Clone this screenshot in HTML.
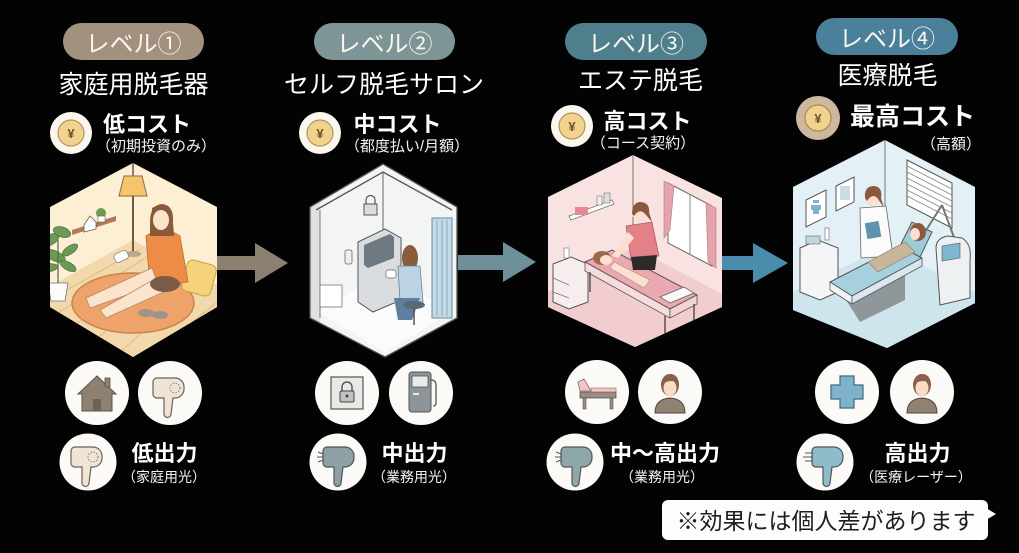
<!DOCTYPE html>
<html><head><meta charset="utf-8"><style>
html,body{margin:0;padding:0;background:#030303;}
svg{display:block}
text{font-family:"Liberation Sans","Noto Sans CJK JP",sans-serif;}
</style></head><body>
<svg width="1019" height="553" viewBox="0 0 1019 553" xmlns="http://www.w3.org/2000/svg">
<rect width="1019" height="553" fill="#030303"/>
<defs>
<clipPath id="h1"><polygon points="133,163 217,207 217,307 133,357 50,307 50,207"/></clipPath>
<clipPath id="h2"><polygon points="383,164 457,207 457,318 385,357 310,318 310,207"/></clipPath>
<clipPath id="h3"><polygon points="633,155 722,198 722,307 635,347 548,307 548,197"/></clipPath>
<clipPath id="h4"><polygon points="885,140 975,187 975,303 887,348 793,310 793,187"/></clipPath>
</defs>

<!-- ===== Headers ===== -->
<rect x="63" y="23" width="141" height="37" rx="18.5" fill="#a1917e"/>
<text x="133.5" y="52" font-size="24" fill="#faf6f0" text-anchor="middle">レベル①</text>
<rect x="314" y="23" width="141" height="37" rx="18.5" fill="#7e9598"/>
<text x="384.5" y="52" font-size="24" fill="#faf6f0" text-anchor="middle">レベル②</text>
<rect x="565" y="23" width="142" height="37" rx="18.5" fill="#4f7f8c"/>
<text x="636" y="52" font-size="24" fill="#faf6f0" text-anchor="middle">レベル③</text>
<rect x="816" y="18" width="142" height="37" rx="18.5" fill="#4a8099"/>
<text x="887" y="47" font-size="24" fill="#faf6f0" text-anchor="middle">レベル④</text>

<text x="133.5" y="93" font-size="25" fill="#ffffff" text-anchor="middle">家庭用脱毛器</text>
<text x="384" y="93" font-size="25" fill="#ffffff" text-anchor="middle">セルフ脱毛サロン</text>
<text x="640.5" y="89" font-size="25" fill="#ffffff" text-anchor="middle">エステ脱毛</text>
<text x="887.5" y="84" font-size="25" fill="#ffffff" text-anchor="middle">医療脱毛</text>

<!-- yen coins -->
<g>
<circle cx="71" cy="133" r="21" fill="#fbf7ee"/><circle cx="71" cy="133" r="13" fill="#f2d38e" stroke="#b3955c" stroke-width="1.2"/>
<text x="71" y="138" font-size="13" fill="#6b5330" text-anchor="middle" font-weight="bold">¥</text>
<circle cx="320" cy="133" r="21" fill="#fbf7ee"/><circle cx="320" cy="133" r="13" fill="#f2d38e" stroke="#b3955c" stroke-width="1.2"/>
<text x="320" y="138" font-size="13" fill="#6b5330" text-anchor="middle" font-weight="bold">¥</text>
<circle cx="572" cy="126" r="21" fill="#fbf7ee"/><circle cx="572" cy="126" r="13" fill="#f2d38e" stroke="#b3955c" stroke-width="1.2"/>
<text x="572" y="131" font-size="13" fill="#6b5330" text-anchor="middle" font-weight="bold">¥</text>
<circle cx="818" cy="118" r="22" fill="#cdb89e"/><circle cx="818" cy="118" r="13" fill="#f2d38e" stroke="#a88a55" stroke-width="1.2"/>
<text x="818" y="123" font-size="13" fill="#6b5330" text-anchor="middle" font-weight="bold">¥</text>
</g>

<text x="147" y="132" font-size="22" font-weight="bold" fill="#ffffff" text-anchor="middle">低コスト</text>
<text x="156" y="151" font-size="15" fill="#f4f4f4" text-anchor="middle">（初期投資のみ）</text>
<text x="397.5" y="132" font-size="22" font-weight="bold" fill="#ffffff" text-anchor="middle">中コスト</text>
<text x="407" y="151" font-size="15" fill="#f4f4f4" text-anchor="middle">（都度払い/月額）</text>
<text x="647.5" y="129" font-size="22" font-weight="bold" fill="#ffffff" text-anchor="middle">高コスト</text>
<text x="643" y="148" font-size="15" fill="#f4f4f4" text-anchor="middle">（コース契約）</text>
<text x="912.5" y="125" font-size="25" font-weight="bold" fill="#ffffff" text-anchor="middle">最高コスト</text>
<text x="951" y="149" font-size="15" fill="#f4f4f4" text-anchor="middle">（高額）</text>

<!-- ===== Arrows ===== -->
<rect x="217" y="256" width="40" height="14" fill="#8c8070"/>
<polygon points="255,243 288,263 255,283" fill="#8c8070"/>
<rect x="458" y="255" width="47" height="15" fill="#6f8f98"/>
<polygon points="503,242 536,262 503,282" fill="#6f8f98"/>
<rect x="720" y="256" width="35" height="14" fill="#4a8cab"/>
<polygon points="753,243 788,263 753,283" fill="#4a8cab"/>

<!-- ===== Hex 1 : home ===== -->
<g clip-path="url(#h1)">
<rect x="40" y="150" width="190" height="220" fill="#fcefd3"/>
<polygon points="40,292 133,240 230,292 230,370 40,370" fill="#f3d8ab"/>
<g stroke="#deba86" stroke-width="1">
<line x1="40" y1="305" x2="140" y2="249"/><line x1="50" y1="318" x2="150" y2="255"/><line x1="70" y1="328" x2="165" y2="263"/>
<line x1="95" y1="340" x2="180" y2="272"/><line x1="120" y1="352" x2="200" y2="282"/><line x1="150" y1="355" x2="220" y2="300"/>
</g>
<ellipse cx="133" cy="303" rx="61" ry="30" fill="#eea36b" stroke="#c9844f" stroke-width="1.5"/>
<line x1="133" y1="160" x2="133" y2="176" stroke="#6b5a48" stroke-width="1.5"/>
<polygon points="124,176 142,176 147,196 119,196" fill="#f6c46a" stroke="#8a6a40" stroke-width="1"/>
<line x1="133" y1="196" x2="133" y2="252" stroke="#6b5a48" stroke-width="2"/>
<ellipse cx="133" cy="254" rx="8" ry="3" fill="#b9a78c"/>
<polygon points="72,230 116,216 116,221 72,235" fill="#b07a55"/>
<polygon points="84,225 90,216 96,222 96,229 84,232" fill="#fff" stroke="#6b5a48" stroke-width="0.8"/>
<circle cx="101" cy="213" r="5" fill="#6f9a52"/><rect x="98" y="216" width="7" height="6" fill="#fff" stroke="#6b5a48" stroke-width="0.6"/>
<g fill="#6a9a55" stroke="#3f6a35" stroke-width="0.6">
<ellipse cx="50" cy="240" rx="10" ry="5" transform="rotate(-30 50 240)"/>
<ellipse cx="62" cy="232" rx="9" ry="5" transform="rotate(20 62 232)"/>
<ellipse cx="55" cy="256" rx="11" ry="5" transform="rotate(25 55 256)"/>
<ellipse cx="70" cy="250" rx="9" ry="4" transform="rotate(-35 70 250)"/>
<ellipse cx="48" cy="268" rx="10" ry="4" transform="rotate(-10 48 268)"/>
<ellipse cx="68" cy="266" rx="9" ry="4" transform="rotate(30 68 266)"/>
</g>
<line x1="58" y1="240" x2="58" y2="285" stroke="#4f6a3a" stroke-width="1.2"/>
<path d="M48,283 h20 l-3,18 h-14 z" fill="#fbfbf8" stroke="#777" stroke-width="0.8"/>
<rect x="184" y="262" width="30" height="32" rx="6" fill="#f6d27a" stroke="#c9a24a" stroke-width="1" transform="rotate(15 199 278)"/>
<path d="M146,236 Q163,224 180,236 L188,282 L150,286 Z" fill="#ec8c47" stroke="#b96a34" stroke-width="0.8"/>
<path d="M150,222 Q150,205 162,204 Q174,205 173,222 L174,236 L150,236 Z" fill="#8a5a3a"/>
<ellipse cx="161" cy="220" rx="8" ry="10" fill="#fbe3cc"/>
<path d="M152,214 Q158,206 170,212 L170,208 Q162,202 152,208 Z" fill="#8a5a3a"/>
<path d="M152,268 L86,298 L90,308 L158,284 Z" fill="#fbe3cc" stroke="#b08a6a" stroke-width="0.8"/>
<path d="M160,276 L100,310 L106,318 L168,290 Z" fill="#fbe3cc" stroke="#b08a6a" stroke-width="0.8"/>
<ellipse cx="165" cy="284" rx="15" ry="8" fill="#7b5b45"/>
<rect x="114" y="252" width="14" height="9" rx="3" fill="#fff" stroke="#888" stroke-width="0.8" transform="rotate(-25 121 256)"/>
<ellipse cx="146" cy="313" rx="8" ry="4" fill="#9e958a"/><ellipse cx="160" cy="315" rx="8" ry="4" fill="#9e958a"/>
</g>

<!-- ===== Hex 2 : booth ===== -->
<g clip-path="url(#h2)">
<rect x="300" y="150" width="170" height="220" fill="#f3f4f4"/>
<polygon points="318,312 383,272 452,312 385,352" fill="#fbfbfb"/>
<rect x="310" y="200" width="10" height="125" fill="#dfe2e3"/>
<polyline points="316,210 383,172 452,210" fill="none" stroke="#555" stroke-width="1.3"/>
<polyline points="310,207 383,164 457,207" fill="none" stroke="#555" stroke-width="1.3"/>
<line x1="383" y1="172" x2="383" y2="262" stroke="#666" stroke-width="1"/>
<line x1="320" y1="210" x2="320" y2="318" stroke="#777" stroke-width="1"/>
<rect x="364" y="204" width="13" height="11" fill="#dcdcdc" stroke="#555" stroke-width="1"/>
<path d="M366,204 v-4 a4,4 0 0 1 9,0 v4" fill="none" stroke="#555" stroke-width="1.2"/>
<polygon points="358,242 385,229 401,238 401,300 373,312 358,302" fill="#dadddf" stroke="#555" stroke-width="1"/>
<polygon points="364,245 390,234 394,237 394,258 368,268 364,265" fill="#6f7a80"/>
<rect x="320" y="285" width="22" height="22" fill="#fff" stroke="#777" stroke-width="0.8"/>
<rect x="345" y="250" width="7" height="14" rx="2" fill="#eee" stroke="#666" stroke-width="0.8"/>
<ellipse cx="410" cy="258" rx="8" ry="13" fill="#8a5c3e"/>
<polygon points="398,266 420,266 423,302 400,302" fill="#bcd3e6" stroke="#6a8499" stroke-width="0.8"/>
<polygon points="394,298 420,298 412,320 398,320" fill="#5f7fa0"/>
<rect x="386" y="270" width="10" height="8" rx="2" fill="#fff" stroke="#666" stroke-width="0.7"/>
<ellipse cx="414" cy="305" rx="11" ry="4" fill="#596a76"/>
<line x1="414" y1="308" x2="414" y2="325" stroke="#555" stroke-width="1.5"/>
<rect x="432" y="218" width="20" height="100" fill="#c3dbe8" stroke="#6f8a99" stroke-width="1"/>
<g stroke="#7f9cab" stroke-width="0.8"><line x1="437" y1="220" x2="437" y2="316"/><line x1="442" y1="220" x2="442" y2="316"/><line x1="447" y1="220" x2="447" y2="316"/></g>
</g>
<polygon points="383,164 457,207 457,318 385,357 310,318 310,207" fill="none" stroke="#555" stroke-width="1.3"/>

<!-- ===== Hex 3 : esthetic ===== -->
<g clip-path="url(#h3)">
<rect x="540" y="145" width="190" height="210" fill="#f8e2e2"/>
<polygon points="548,292 633,247 722,294 722,360 548,360" fill="#f1cdcf"/>
<line x1="633" y1="155" x2="633" y2="247" stroke="#777" stroke-width="1"/>
<polygon points="668,183 712,206 712,266 668,243" fill="#fff" stroke="#666" stroke-width="1"/>
<line x1="690" y1="194" x2="690" y2="254" stroke="#888" stroke-width="1"/>
<polygon points="664,181 674,186 670,230 664,238" fill="#e6a3ad" stroke="#b07a80" stroke-width="0.6"/>
<polygon points="706,203 716,208 716,268 708,262" fill="#e6a3ad" stroke="#b07a80" stroke-width="0.6"/>
<polygon points="569,216 612,200 614,204 571,220" fill="#fff" stroke="#777" stroke-width="0.8"/>
<rect x="575" y="207" width="13" height="8" fill="#e48a92"/>
<rect x="597" y="196" width="5" height="9" fill="#eee" stroke="#777" stroke-width="0.6"/>
<rect x="604" y="193" width="6" height="10" fill="#ddd" stroke="#777" stroke-width="0.6"/>
<polygon points="553,264 571,257 588,264 588,302 569,309 553,302" fill="#f6eeee" stroke="#555" stroke-width="1"/>
<line x1="553" y1="278" x2="569" y2="285" stroke="#777" stroke-width="0.8"/><line x1="553" y1="292" x2="569" y2="298" stroke="#777" stroke-width="0.8"/>
<rect x="564" y="248" width="5" height="10" fill="#fff" stroke="#777" stroke-width="0.6"/>
<polygon points="585,262 612,250 697,295 670,309" fill="#eaa8b0" stroke="#555" stroke-width="1"/>
<polygon points="585,262 670,309 670,318 585,271" fill="#f6dcdc" stroke="#555" stroke-width="0.8"/>
<polygon points="670,309 697,295 697,304 670,318" fill="#f3d4d4" stroke="#555" stroke-width="0.8"/>
<g stroke="#555" stroke-width="1.5"><line x1="590" y1="272" x2="590" y2="292"/><line x1="665" y1="316" x2="665" y2="334"/><line x1="694" y1="304" x2="694" y2="322"/></g>
<polygon points="660,297 684,287 694,293 670,303" fill="#fafafa" stroke="#666" stroke-width="0.8"/>
<ellipse cx="602" cy="258" rx="9" ry="7" fill="#9a6a4a"/>
<ellipse cx="606" cy="260" rx="6" ry="5" fill="#fbe0cf"/>
<path d="M614,262 L650,280 L644,288 L610,268 Z" fill="#fbe0cf" stroke="#b08a7a" stroke-width="0.6"/>
<circle cx="640" cy="213" r="8" fill="#fbe0cf"/>
<path d="M632,214 Q632,202 641,202 Q650,203 649,212 L652,222 L646,215 Q640,207 634,216 Z" fill="#8a5a3e"/>
<polygon points="626,226 652,222 659,256 631,259" fill="#e48088" stroke="#a85a62" stroke-width="0.7"/>
<polygon points="631,257 657,255 655,270 633,270" fill="#2e2a2a"/>
<path d="M628,232 L612,256 L618,258 L634,238 Z" fill="#fbe0cf"/>
</g>

<!-- ===== Hex 4 : clinic ===== -->
<g clip-path="url(#h4)">
<rect x="785" y="130" width="200" height="230" fill="#e3f1f6"/>
<polygon points="793,292 885,247 975,292 975,360 793,360" fill="#cfe5ee"/>
<line x1="885" y1="140" x2="885" y2="247" stroke="#777" stroke-width="1"/>
<polygon points="907,160 952,183 952,228 907,205" fill="#fff" stroke="#555" stroke-width="1"/>
<g stroke="#888" stroke-width="0.8">
<line x1="907" y1="166" x2="952" y2="189"/><line x1="907" y1="172" x2="952" y2="195"/><line x1="907" y1="178" x2="952" y2="201"/>
<line x1="907" y1="184" x2="952" y2="207"/><line x1="907" y1="190" x2="952" y2="213"/><line x1="907" y1="196" x2="952" y2="219"/>
</g>
<polygon points="806,200 826,190 826,217 806,227" fill="#fff" stroke="#555" stroke-width="1"/>
<path d="M813,203 h6 v-3 h-6 z M811,205 h10 v5 h-10 z M813,210 h6 v4 h-6 z" fill="#7fb3cc"/>
<polygon points="836,186 854,177 854,202 836,211" fill="#fff" stroke="#555" stroke-width="1"/>
<rect x="840" y="186" width="10" height="14" fill="#c9dde5"/>
<polygon points="800,248 818,240 838,248 838,292 820,300 800,292" fill="#f3f5f6" stroke="#555" stroke-width="1"/>
<rect x="806" y="236" width="14" height="8" fill="#bfd8e2" stroke="#666" stroke-width="0.6"/>
<rect x="825" y="228" width="4" height="12" fill="#fff" stroke="#666" stroke-width="0.6"/>
<circle cx="873" cy="198" r="8" fill="#fbe0cf"/>
<path d="M865,198 Q864,186 874,186 Q883,187 881,198 L884,208 L878,199 Q873,192 867,201 Z" fill="#8a5a3e"/>
<polygon points="860,208 886,206 893,256 861,258" fill="#fbfbfb" stroke="#666" stroke-width="0.8"/>
<rect x="866" y="222" width="14" height="16" fill="#5e93b0" transform="rotate(-10 873 230)"/>
<polygon points="846,300 905,270 905,300 860,322" fill="#8f979b"/>
<polygon points="830,282 900,246 922,258 852,296" fill="#a6d0dd" stroke="#555" stroke-width="1"/>
<polygon points="830,282 852,296 852,304 830,290" fill="#eef5f7" stroke="#555" stroke-width="0.8"/>
<polygon points="852,296 922,258 922,266 852,304" fill="#d9e8ee" stroke="#555" stroke-width="0.8"/>
<polygon points="900,246 912,222 932,232 920,257" fill="#9ccbd9" stroke="#555" stroke-width="1"/>
<ellipse cx="918" cy="232" rx="8" ry="9" fill="#8a5a3e"/>
<ellipse cx="915" cy="234" rx="5" ry="6" fill="#fbe0cf"/>
<path d="M868,262 L905,242 L915,252 L878,272 Z" fill="#c8b59a" stroke="#8a7a64" stroke-width="0.6"/>
<line x1="925" y1="232" x2="942" y2="205" stroke="#777" stroke-width="2"/>
<line x1="942" y1="205" x2="955" y2="240" stroke="#777" stroke-width="2"/>
<path d="M936,248 Q936,238 948,236 L962,238 Q972,244 970,260 L970,298 L940,305 Z" fill="#eef1f2" stroke="#555" stroke-width="1"/>
<polygon points="942,246 960,243 960,258 942,261" fill="#7fb6d0" stroke="#555" stroke-width="0.6"/>
</g>

<!-- ===== Bottom icons ===== -->
<g fill="#fbfaf6">
<circle cx="97" cy="393" r="32"/><circle cx="170" cy="393" r="32"/><circle cx="88" cy="462" r="28.5"/>
<circle cx="347" cy="393" r="32"/><circle cx="421" cy="393" r="32"/><circle cx="338" cy="462" r="28.5"/>
<circle cx="597" cy="392" r="32"/><circle cx="670" cy="392" r="32"/><circle cx="575" cy="462" r="28.5"/>
<circle cx="847" cy="392" r="32"/><circle cx="922" cy="392" r="32"/><circle cx="825" cy="462" r="28.5"/>
</g>

<!-- house -->
<path d="M78,394 L97,376 L116,394 L112,394 L112,411 L82,411 L82,394 Z" fill="#8f8170" stroke="#5d5348" stroke-width="1"/>
<rect x="105" y="378" width="5" height="9" fill="#8f8170" stroke="#5d5348" stroke-width="0.8"/>
<rect x="93" y="399" width="8" height="12" fill="#6d6255"/>

<!-- dryer template: light beige -->
<g transform="translate(170,393)" fill="#efe4d6" stroke="#6d6156" stroke-width="1.2">
<path d="M-13,-15 h18 a9,9 0 0 1 9,9 v2 a9,9 0 0 1 -9,9 h-2 l-2,16 a3.5,3.5 0 0 1 -7,0 l0,-16 h-7 a4,4 0 0 1 -4,-4 v-12 a4,4 0 0 1 4,-4 z"/>
<circle cx="5" cy="-5" r="5" fill="none" stroke-dasharray="1.5 1.5" stroke-width="0.8"/>
</g>
<g transform="translate(88,462)" fill="#efe4d6" stroke="#6d6156" stroke-width="1.2">
<path d="M-13,-15 h18 a9,9 0 0 1 9,9 v2 a9,9 0 0 1 -9,9 h-2 l-2,16 a3.5,3.5 0 0 1 -7,0 l0,-16 h-7 a4,4 0 0 1 -4,-4 v-12 a4,4 0 0 1 4,-4 z"/>
<circle cx="5" cy="-5" r="5" fill="none" stroke-dasharray="1.5 1.5" stroke-width="0.8"/>
</g>

<!-- lock -->
<rect x="331" y="377" width="32" height="32" fill="#e8e8e6" stroke="#555" stroke-width="1.2"/>
<rect x="340" y="391" width="14" height="11" rx="1.5" fill="#bfc3c4" stroke="#444" stroke-width="1"/>
<path d="M342,391 v-4 a5,5 0 0 1 10,0 v4" fill="none" stroke="#444" stroke-width="1.3"/>
<circle cx="347" cy="396" r="1.5" fill="#444"/>
<!-- kiosk -->
<rect x="409" y="372" width="22" height="40" rx="3" fill="#8e9598" stroke="#4f5558" stroke-width="1"/>
<rect x="412" y="376" width="16" height="11" fill="#e9ecec" stroke="#4f5558" stroke-width="0.8"/>
<rect x="413" y="393" width="6" height="2" fill="#e9ecec"/>
<path d="M431,380 q5,0 5,5 v18 q0,3 -3,3" fill="none" stroke="#4f5558" stroke-width="1.3"/>
<!-- dryer col2 gray -->
<g transform="translate(340,462)" fill="#8fa0a4" stroke="#4f5558" stroke-width="1.2">
<path d="M-13,-15 h18 a9,9 0 0 1 9,9 v2 a9,9 0 0 1 -9,9 h-2 l-2,16 a3.5,3.5 0 0 1 -7,0 l0,-16 h-7 a4,4 0 0 1 -4,-4 v-12 a4,4 0 0 1 4,-4 z"/>
</g>
<g stroke="#555" stroke-width="1"><line x1="318" y1="452" x2="323" y2="454"/><line x1="317" y1="457" x2="323" y2="457"/><line x1="318" y1="462" x2="323" y2="460"/></g>

<!-- bed icon -->
<rect x="580" y="392" width="36" height="6" fill="#9a8d7e" stroke="#555" stroke-width="0.8"/>
<rect x="591" y="388" width="25" height="4" fill="#f1c6c6" stroke="#8a6a6a" stroke-width="0.6"/>
<polygon points="580,391 591,391 584,379 578,382" fill="#f1c6c6" stroke="#8a6a6a" stroke-width="0.8"/>
<rect x="583" y="398" width="3" height="11" fill="#9a8d7e" stroke="#555" stroke-width="0.6"/>
<rect x="610" y="398" width="3" height="11" fill="#9a8d7e" stroke="#555" stroke-width="0.6"/>
<!-- person icons -->
<g id="p1">
<path d="M655,413 q0,-14 15,-15 q15,1 15,15 z" fill="#8f8272" stroke="#4f463c" stroke-width="1"/>
<ellipse cx="670" cy="385" rx="9" ry="11" fill="#8a6048"/>
<ellipse cx="670" cy="388" rx="6.5" ry="8" fill="#f9dcc8"/>
<path d="M661,384 q2,-10 9,-10 q8,0 9,10 q-6,-6 -18,0 z" fill="#8a6048"/>
</g>
<g transform="translate(252,0)">
<path d="M655,413 q0,-14 15,-15 q15,1 15,15 z" fill="#8f8272" stroke="#4f463c" stroke-width="1"/>
<ellipse cx="670" cy="385" rx="9" ry="11" fill="#8a6048"/>
<ellipse cx="670" cy="388" rx="6.5" ry="8" fill="#f9dcc8"/>
<path d="M661,384 q2,-10 9,-10 q8,0 9,10 q-6,-6 -18,0 z" fill="#8a6048"/>
</g>
<!-- dryer col3 -->
<g transform="translate(578,462)" fill="#8fa7ab" stroke="#4f5558" stroke-width="1.2">
<path d="M-13,-15 h18 a9,9 0 0 1 9,9 v2 a9,9 0 0 1 -9,9 h-2 l-2,16 a3.5,3.5 0 0 1 -7,0 l0,-16 h-7 a4,4 0 0 1 -4,-4 v-12 a4,4 0 0 1 4,-4 z"/>
</g>
<g stroke="#555" stroke-width="1"><line x1="556" y1="452" x2="561" y2="454"/><line x1="555" y1="457" x2="561" y2="457"/><line x1="556" y1="462" x2="561" y2="460"/></g>
<!-- cross -->
<path d="M840,376 h14 v9 h9 v14 h-9 v9 h-14 v-9 h-9 v-14 h9 z" fill="#7fb3cc" stroke="#3f6a80" stroke-width="1.2"/>
<!-- dryer col4 -->
<g transform="translate(829,462)" fill="#8fbccb" stroke="#4f5558" stroke-width="1.2">
<path d="M-13,-15 h18 a9,9 0 0 1 9,9 v2 a9,9 0 0 1 -9,9 h-2 l-2,16 a3.5,3.5 0 0 1 -7,0 l0,-16 h-7 a4,4 0 0 1 -4,-4 v-12 a4,4 0 0 1 4,-4 z"/>
</g>
<g stroke="#555" stroke-width="1"><line x1="805" y1="453" x2="813" y2="453"/><line x1="803" y1="457" x2="813" y2="457"/><line x1="805" y1="461" x2="813" y2="461"/></g>

<!-- output labels -->
<text x="164.5" y="461" font-size="22" font-weight="bold" fill="#ffffff" text-anchor="middle">低出力</text>
<text x="164" y="482" font-size="14" fill="#f4f4f4" text-anchor="middle">（家庭用光）</text>
<text x="414.5" y="461" font-size="22" font-weight="bold" fill="#ffffff" text-anchor="middle">中出力</text>
<text x="414" y="482" font-size="14" fill="#f4f4f4" text-anchor="middle">（業務用光）</text>
<text x="665" y="461" font-size="22" font-weight="bold" fill="#ffffff" text-anchor="middle">中～高出力</text>
<text x="662" y="482" font-size="14" fill="#f4f4f4" text-anchor="middle">（業務用光）</text>
<text x="917.5" y="461" font-size="22" font-weight="bold" fill="#ffffff" text-anchor="middle">高出力</text>
<text x="916" y="482" font-size="14" fill="#f4f4f4" text-anchor="middle">（医療レーザー）</text>

<!-- note -->
<rect x="662" y="500" width="326" height="40" rx="6" fill="#fdfdfd"/>
<polygon points="986,508 996,514 986,520" fill="#fdfdfd"/>
<text x="826" y="529" font-size="23" fill="#1e1e1e" text-anchor="middle">※効果には個人差があります</text>
</svg>
</body></html>
